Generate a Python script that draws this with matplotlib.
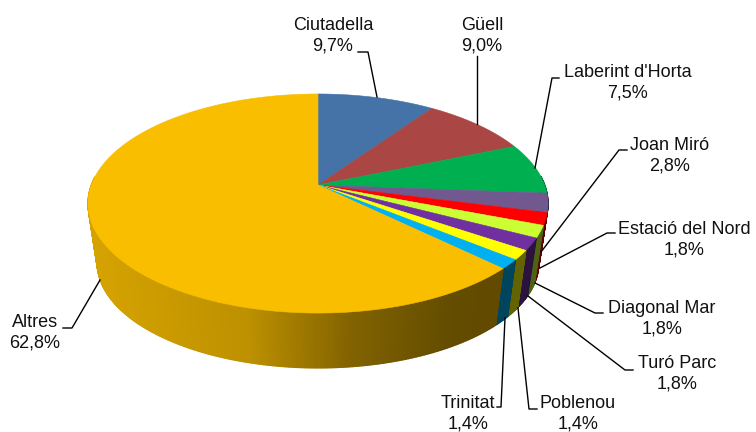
import numpy as np
import matplotlib.pyplot as plt
from matplotlib.collections import PolyCollection
from matplotlib.colors import to_rgb

# data
names = ['Ciutadella', 'Güell', "Laberint d'Horta", 'Joan Miró', 'Estació del Nord',
         'Diagonal Mar', 'Turó Parc', 'Poblenou', 'Trinitat', 'Altres']
shares = [9.7, 9.0, 7.5, 2.8, 1.8, 1.8, 1.8, 1.4, 1.4, 62.8]
colors = ['#4572A7', '#AA4643', '#00B050', '#71588F', '#FF0000',
          '#CCFF33', '#7030A0', '#FFFF00', '#00B0F0', '#F9BE00']

# label block centres and leader lines (pixels)
label_pos = [(333, 35.5), (482, 35.5), (628, 83), (670, 156), (684, 239.5),
             (662, 318.5), (677, 374), (578, 414), (468, 414), (35, 332.5)]
leaders = [
    [(358, 52), (368, 52), (377, 97)],
    [(477, 56), (477, 124)],
    [(559, 78), (552, 78), (535, 168)],
    [(627, 150), (619, 150), (541, 252)],
    [(615, 233), (607, 233), (540, 268)],
    [(603, 313), (595, 313), (535, 283)],
    [(633, 370), (625, 370), (528, 296)],
    [(537, 409), (529, 409), (518, 308)],
    [(497, 407), (501, 407), (505, 318)],
    [(63, 328), (72, 328), (100, 280)],
]

# pie geometry (pixels)
cx, cy = 318, 185
A, B, k = 226.7, 106.4, 0.169
D, shrink = 60, 0.04


def proj(theta, h=0.0):
    t = np.radians(theta)
    z = -np.sin(t)
    s = 1.0 / (1.0 - k * z) * (1 - shrink * h)
    return cx + A * np.cos(t) * s, cy + B * z * s + D * h


def shade(x):
    return np.interp(x, [90, 250, 350, 450, 560], [0.86, 0.76, 0.52, 0.40, 0.38])


fig = plt.figure(figsize=(7.56, 4.32), dpi=100)
ax = fig.add_axes([0, 0, 1, 1])
ax.set_xlim(0, 756)
ax.set_ylim(432, 0)
ax.axis('off')

cum = np.concatenate([[0], np.cumsum(shares)]) / sum(shares)
starts = 90 - 360 * cum[:-1]
ends = 90 - 360 * cum[1:]

# side walls
quads, qcols, qz = [], [], []
step = 0.5
for a0, a1, c in zip(starts, ends, colors):
    th = np.arange(a1, a0, step)
    th = np.append(th, a0)
    for t0, t1 in zip(th[:-1], th[1:]):
        tm = 0.5 * (t0 + t1)
        if np.sin(np.radians(tm)) > 0.08:
            continue
        p = [proj(t0, 0), proj(t1, 0), proj(t1, 1), proj(t0, 1)]
        xm = np.mean([q[0] for q in p])
        f = shade(xm)
        rgb = tuple(np.array(to_rgb(c)) * f)
        quads.append(p)
        qcols.append(rgb)
        qz.append(-np.sin(np.radians(tm)))
order = np.argsort(qz)
pc = PolyCollection([quads[i] for i in order], facecolors=[qcols[i] for i in order],
                    edgecolors=[qcols[i] for i in order], linewidths=0.9)
ax.add_collection(pc)

# top surface
for a0, a1, c in zip(starts, ends, colors):
    th = np.linspace(a0, a1, max(int(abs(a0 - a1) * 2), 4))
    xs, ys = proj(th)
    xs = np.concatenate([[cx], xs])
    ys = np.concatenate([[cy], ys])
    ax.fill(xs, ys, color=c, ec=c, lw=0.4)

# labels
for name, v, (lx, ly), pts in zip(names, shares, label_pos, leaders):
    txt = f"{name}\n{v:.1f}%".replace('.', ',')
    ax.text(lx, ly, txt, ha='center', va='center', fontsize=13,
            family='Liberation Sans', color='#111111', linespacing=1.26)
    px, py = zip(*pts)
    ax.plot(px, py, color='black', lw=1.0)

fig.savefig('out.png', dpi=100)
